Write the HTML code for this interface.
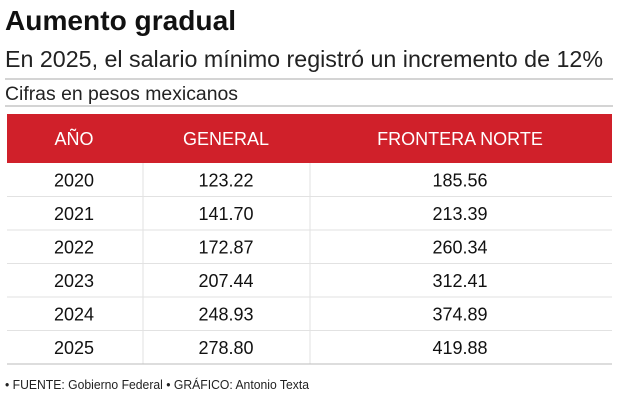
<!DOCTYPE html>
<html><head><meta charset="utf-8"><style>
body{margin:0;background:#fff}
svg{display:block;font-family:"Liberation Sans",sans-serif}
</style></head><body>
<svg width="618" height="403" viewBox="0 0 618 403">
<text x="5" y="30" font-size="28" font-weight="bold" fill="#111" textLength="231" lengthAdjust="spacingAndGlyphs">Aumento gradual</text>
<text x="5" y="67" font-size="23" fill="#222" textLength="598" lengthAdjust="spacingAndGlyphs">En 2025, el salario mínimo registró un incremento de 12%</text>
<line x1="5" y1="79" x2="613" y2="79" stroke="#aaa" stroke-width="1"/>
<text x="5" y="100" font-size="19" fill="#222" textLength="233" lengthAdjust="spacingAndGlyphs">Cifras en pesos mexicanos</text>
<line x1="5" y1="106" x2="613" y2="106" stroke="#aaa" stroke-width="1"/>
<rect x="7" y="114" width="605" height="49" fill="#d0202a"/>
<g id="hdr" fill="#fff" font-size="18" text-anchor="middle"></g>
<g id="rows" font-size="18" fill="#111" text-anchor="middle"></g>
<line x1="7" y1="364" x2="612" y2="364" stroke="#bbb" stroke-width="1"/>
<text x="5" y="389" font-size="12.5" fill="#222" textLength="304" lengthAdjust="spacingAndGlyphs">• FUENTE: Gobierno Federal • GRÁFICO: Antonio Texta</text>
</svg>
<script>
const headers=["AÑO","GENERAL","FRONTERA NORTE"];
const years=["2020","2021","2022","2023","2024","2025"];
const general=["123.22","141.70","172.87","207.44","248.93","278.80"];
const frontera=["185.56","213.39","260.34","312.41","374.89","419.88"];
const NS="http://www.w3.org/2000/svg";
const cx=[74,226,460], top0=163, rh=33.5;
const hdr=document.getElementById('hdr'), rows=document.getElementById('rows');
headers.forEach((h,i)=>{const t=document.createElementNS(NS,'text');
t.setAttribute('x',cx[i]);t.setAttribute('y',145);t.textContent=h;


hdr.appendChild(t);});
years.forEach((y,r)=>{const base=top0+r*rh;
if(r>0){const l=document.createElementNS(NS,'line');
l.setAttribute('x1',7);l.setAttribute('x2',612);l.setAttribute('y1',base);l.setAttribute('y2',base);
l.setAttribute('stroke','#e2e2e2');


rows.appendChild(l);}
[y,general[r],frontera[r]].forEach((v,i)=>{const t=document.createElementNS(NS,'text');
t.setAttribute('x',cx[i]);t.setAttribute('y',base+rh/2+6.5);t.textContent=v;


rows.appendChild(t);});});
[143,310].forEach(x=>{const l=document.createElementNS(NS,'line');
l.setAttribute('x1',x);l.setAttribute('x2',x);l.setAttribute('y1',top0);l.setAttribute('y2',364);
l.setAttribute('stroke','#e2e2e2');


rows.appendChild(l);});
</script>
</body></html>
